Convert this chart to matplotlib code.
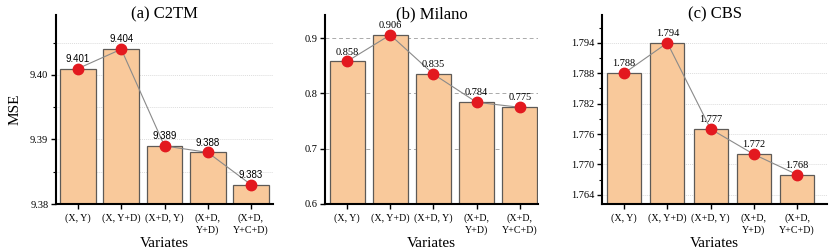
import numpy as np
import matplotlib
matplotlib.use("Agg")
import matplotlib.pyplot as plt
from matplotlib.ticker import MultipleLocator, FormatStrFormatter

# Data
variates = ["(X, Y)", "(X, Y+D)", "(X+D, Y)", "(X+D,\nY+D)", "(X+D,\nY+C+D)"]
c2tm_mse = [9.401, 9.404, 9.389, 9.388, 9.383]
milano_mse = [0.858, 0.906, 0.835, 0.784, 0.775]
cbs_mse = [1.788, 1.794, 1.777, 1.772, 1.768]
titles = ["(a) C2TM", "(b) Milano", "(c) CBS"]

plt.rcParams["font.family"] = "Liberation Serif"

bar_color = "#F9C99B"
edge_color = "#5E5A57"
dot_color = "#E3191F"


def draw_panel(ax, values, title, ylim, major, minor, fmt, xlim, width,
               grid_style, label_font, label_size):
    x = np.arange(len(values))
    ax.bar(x, values, width=width, color=bar_color, edgecolor=edge_color,
           linewidth=0.9, zorder=2)
    ax.plot(x, values, color="#8a8a8a", linewidth=0.8, zorder=3)
    ax.plot(x, values, "o", color=dot_color, markersize=7.5, zorder=4)
    for xi, v in zip(x, values):
        ax.annotate(f"{v:.3f}", (xi, v), xytext=(0, 3.5), textcoords="offset points",
                    ha="center", va="bottom", fontsize=label_size,
                    family=label_font, zorder=5)
    ax.set_ylim(*ylim)
    ax.set_xlim(*xlim)
    ax.yaxis.set_major_locator(MultipleLocator(major))
    ax.yaxis.set_major_formatter(FormatStrFormatter(fmt))
    if minor:
        ax.yaxis.set_minor_locator(MultipleLocator(minor))
    ax.set_xticks(x)
    ax.set_xticklabels(variates, fontsize=7.2, linespacing=1.4)
    ax.tick_params(axis="y", labelsize=7.5, width=1.0, length=3.5, pad=2)
    ax.tick_params(axis="y", which="minor", width=0.8, length=2.5)
    ax.tick_params(axis="x", width=1.0, length=3.5, pad=3)
    for side in ["top", "right"]:
        ax.spines[side].set_visible(False)
    for side in ["left", "bottom"]:
        ax.spines[side].set_linewidth(1.5)
    if grid_style == "dashed":
        ax.grid(axis="y", which="major", linestyle=(0, (4, 3)), color="#aaaaaa",
                linewidth=0.7, zorder=0)
    elif grid_style == "dotted_both":
        ax.grid(axis="y", which="both", linestyle=(0, (1, 1)), color="#dddddd",
                linewidth=0.7, zorder=0)
    else:
        ax.grid(axis="y", which="major", linestyle=(0, (1, 1)), color="#dddddd",
                linewidth=0.7, zorder=0)
    ax.set_axisbelow(True)
    ax.set_title(title, fontsize=12, y=0.982, pad=0)
    ax.set_xlabel("Variates", fontsize=11, labelpad=1)


fig = plt.figure(figsize=(8.3, 2.5), dpi=100)
ax1 = fig.add_axes([56 / 830, 46 / 250, 217 / 830, 189 / 250])
ax2 = fig.add_axes([325 / 830, 46 / 250, 213 / 830, 189 / 250])
ax3 = fig.add_axes([602 / 830, 46 / 250, 225 / 830, 189 / 250])

draw_panel(ax1, c2tm_mse, titles[0], (9.38, 9.4093), 0.01, 0.005, "%.2f",
           (-0.51, 4.51), 0.83, "dotted_both", "Liberation Sans", 7)
draw_panel(ax2, milano_mse, titles[1], (0.6, 0.942), 0.1, None, "%.1f",
           (-0.51, 4.42), 0.81, "dashed", "Liberation Serif", 7.5)
draw_panel(ax3, cbs_mse, titles[2], (1.7622, 1.7995), 0.006, 0.003, "%.3f",
           (-0.51, 4.69), 0.79, "dotted", "Liberation Serif", 7.5)

ax1.set_ylabel("MSE", fontsize=11, labelpad=6)

fig.savefig("out.png", dpi=100)
